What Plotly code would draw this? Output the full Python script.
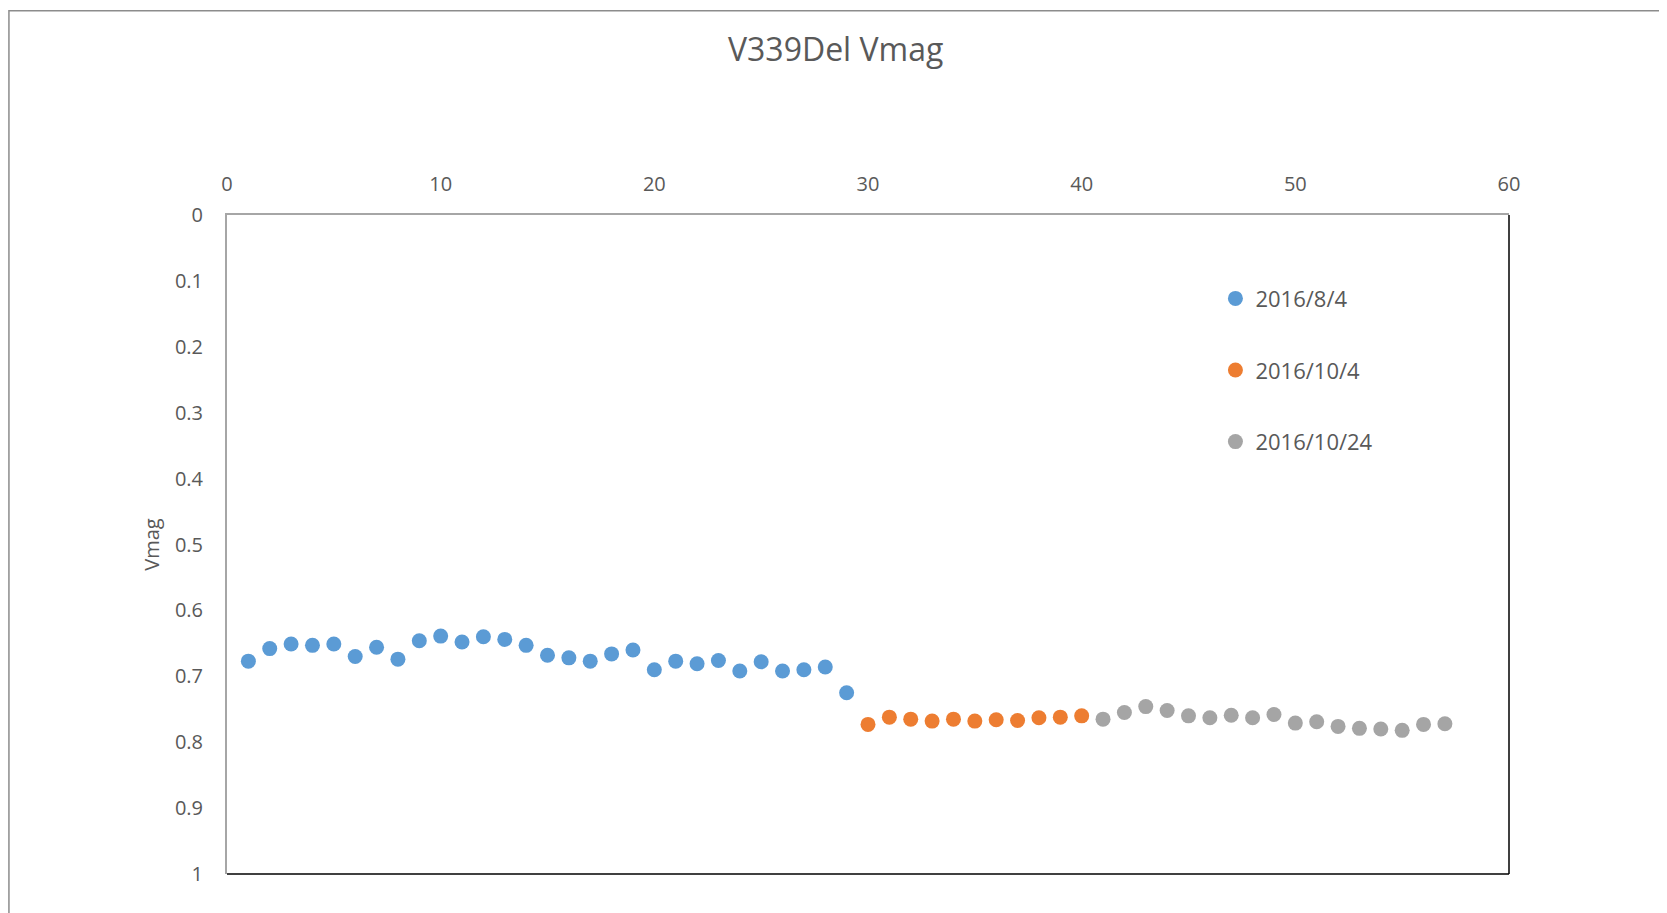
"""V339Del Vmag scatter (three nights)."""

import plotly.graph_objects as go

FONT = "Open Sans, Noto Sans, sans-serif"
TEXT = "#595959"

series_names = ["2016/8/4", "2016/10/4", "2016/10/24"]
series_colors = ["#5B9BD5", "#ED7D31", "#A5A5A5"]

x_aug4 = list(range(1, 30))
vmag_aug4 = [
    0.677, 0.658, 0.651, 0.653, 0.651, 0.670, 0.656, 0.674, 0.646, 0.639,
    0.648, 0.640, 0.644, 0.653, 0.668, 0.672, 0.677, 0.666, 0.660, 0.690,
    0.677, 0.681, 0.676, 0.692, 0.678, 0.692, 0.690, 0.686, 0.725,
]

x_oct4 = list(range(30, 41))
vmag_oct4 = [
    0.773, 0.762, 0.765, 0.768, 0.765, 0.768, 0.766, 0.767, 0.763, 0.762,
    0.760,
]

x_oct24 = list(range(41, 58))
vmag_oct24 = [
    0.765, 0.755, 0.746, 0.752, 0.760, 0.763, 0.759, 0.763, 0.758, 0.771,
    0.769, 0.776, 0.779, 0.780, 0.782, 0.773, 0.772,
]

xs = [x_aug4, x_oct4, x_oct24]
ys = [vmag_aug4, vmag_oct4, vmag_oct24]

fig = go.Figure()
for i, name in enumerate(series_names):
    fig.add_trace(
        go.Scatter(
            x=xs[i],
            y=ys[i],
            mode="markers",
            name=name,
            legendgroup=name,
            marker=dict(size=15, color=series_colors[i], line=dict(width=0)),
        )
    )

# the page body adds an 8px offset, so margins are shifted by that much
fig.update_layout(
    width=1667,
    height=913,
    paper_bgcolor="white",
    plot_bgcolor="white",
    margin=dict(l=219, r=166, t=207, b=47),
    font=dict(family=FONT, size=21, color=TEXT),
    title=dict(
        text="V339Del Vmag",
        font=dict(size=32, color=TEXT, family=FONT),
        x=0.4965,
        xref="container",
        xanchor="center",
        y=1 - 42 / 913,
        yanchor="middle",
    ),
    showlegend=True,
    legend=dict(
        x=0.771,
        y=0.905,
        xanchor="left",
        yanchor="top",
        bgcolor="rgba(0,0,0,0)",
        font=dict(size=22, color=TEXT),
        traceorder="grouped",
        tracegroupgap=40,
        itemwidth=30,
    ),
    shapes=[
        dict(type="rect", xref="paper", yref="paper",
             x0=-0.1701, x1=1.1186, y0=-0.2, y1=1.31,
             line=dict(color="#8c8c8c", width=1.5), layer="below"),
        dict(type="line", xref="paper", yref="paper",
             x0=1, x1=1, y0=0, y1=1, line=dict(color="black", width=1.5)),
        dict(type="line", xref="paper", yref="paper",
             x0=0, x1=1, y0=0, y1=0, line=dict(color="black", width=1.5)),
    ],
)

fig.update_xaxes(
    range=[0, 60],
    dtick=10,
    side="top",
    showgrid=False,
    zeroline=False,
    showline=True,
    linecolor="#a6a6a6",
    linewidth=2,
    ticks="",
    ticklabelstandoff=14,
    tickfont=dict(size=20, color=TEXT),
)
fig.update_yaxes(
    range=[1, 0],
    dtick=0.1,
    showgrid=False,
    zeroline=False,
    showline=True,
    linecolor="#a6a6a6",
    linewidth=2,
    ticks="",
    ticklabelstandoff=18,
    tickfont=dict(size=20, color=TEXT),
    title=dict(text="Vmag", font=dict(size=20, color=TEXT), standoff=10),
)

fig.write_html("out.html")
